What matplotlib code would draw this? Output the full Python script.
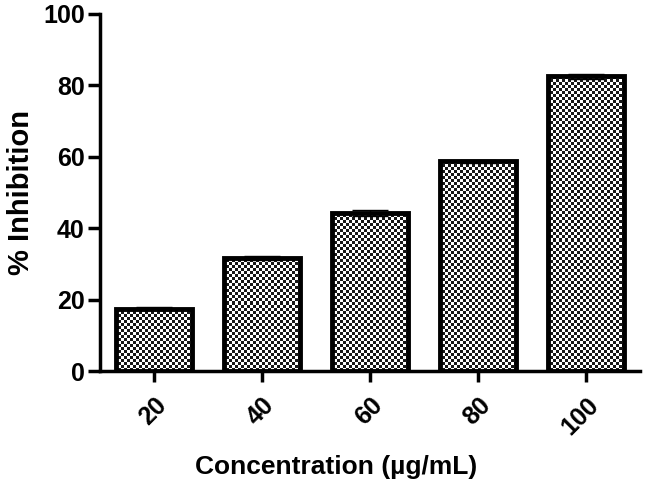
import numpy as np
import matplotlib.pyplot as plt

plt.rcParams['font.family'] = ['Liberation Sans', 'DejaVu Sans']
plt.rcParams['font.weight'] = 'bold'

# data
concentrations = ['20', '40', '60', '80', '100']
inhibition = [17.5, 31.7, 44.3, 58.7, 82.6]
errors = [0.5, 0.6, 0.8, 0.5, 0.7]

fig = plt.figure(figsize=(6.46, 4.82), dpi=100)
ax = fig.add_axes([0.155, 0.230, 0.836, 0.741])

x = np.arange(len(concentrations))
bars = ax.bar(x, inhibition, width=0.7, facecolor='none', edgecolor='black',
              linewidth=3.5, zorder=3)
ax.errorbar(x, inhibition, yerr=errors, fmt='none', ecolor='black',
            elinewidth=1, capsize=13, capthick=1, zorder=2)

ax.set_xlim(-0.5, len(concentrations) - 0.5)
ax.set_ylim(0, 100)

# checkerboard fill, clipped to each bar
ny, nx = 119, 180
checker = (np.add.outer(np.arange(ny), np.arange(nx)) % 2).astype(float)
for b in bars:
    im = ax.imshow(checker, cmap='gray', vmin=-0.1, vmax=1, interpolation='nearest',
                   extent=(-0.5, len(concentrations) - 0.5, 0, 100),
                   aspect='auto', zorder=1)
    im.set_clip_path(b)

ax.set_xticks(x)
ax.set_xticklabels(concentrations, rotation=45, ha='right', va='top',
                   rotation_mode='anchor', fontsize=18, fontweight='bold')
ax.set_yticks([0, 20, 40, 60, 80, 100])
ax.tick_params(axis='y', labelsize=18, width=2.5, length=9, pad=2)
ax.tick_params(axis='x', width=2.5, length=8, pad=8)
for lbl in ax.get_yticklabels():
    lbl.set_fontweight('bold')

for s in ['top', 'right']:
    ax.spines[s].set_visible(False)
for s in ['left', 'bottom']:
    ax.spines[s].set_linewidth(2.5)

ax.set_xlabel('Concentration (µg/mL)', fontsize=19, fontweight='bold')
ax.xaxis.set_label_coords(0.437, -0.234)
ax.set_ylabel('% Inhibition', fontsize=21, fontweight='bold', labelpad=6)

fig.savefig('out.png', dpi=100)
